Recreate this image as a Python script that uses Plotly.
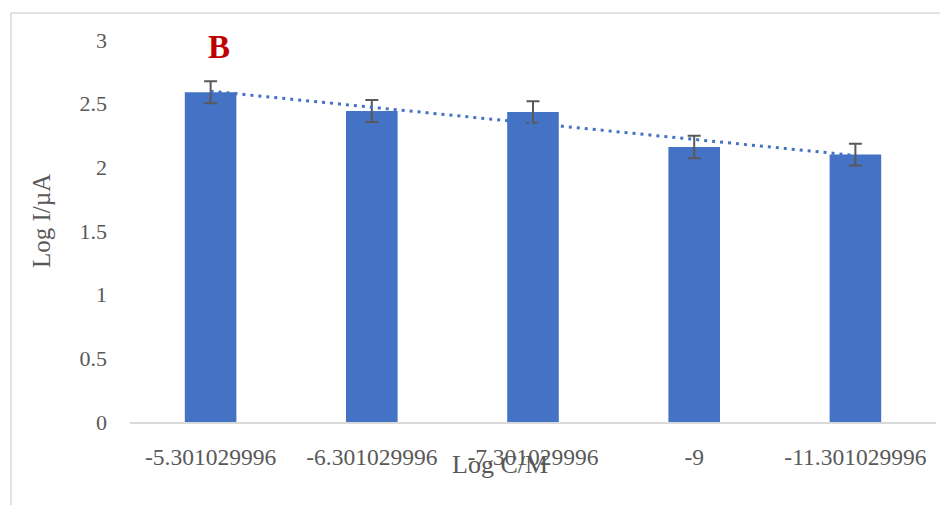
import numpy as np
import plotly.graph_objects as go

categories = ["-5.301029996", "-6.301029996", "-7.301029996", "-9", "-11.301029996"]
log_current = [2.59, 2.443, 2.435, 2.16, 2.10]
error_vals = [0.087, 0.086, 0.084, 0.088, 0.086]
y_ticks = [0, 0.5, 1, 1.5, 2, 2.5, 3]
y_tick_text = ["0", "0.5", "1", "1.5", "2", "2.5", "3"]

# linear trendline (as in the spreadsheet's linear trendline) fitted to the bar values
xi = np.arange(1, len(log_current) + 1)
slope, intercept = np.polyfit(xi, log_current, 1)
trend = (slope * xi + intercept).tolist()

GRAY = "#595959"
SERIF = "Liberation Serif, Times New Roman, serif"

fig = go.Figure()
fig.add_trace(go.Bar(
    x=categories, y=log_current,
    marker=dict(color="#4472C4", line=dict(width=0)),
    error_y=dict(type="data", array=error_vals, visible=True,
                 color=GRAY, thickness=2, width=6.5),
    showlegend=False,
))
fig.add_trace(go.Scatter(
    x=categories, y=trend, mode="lines",
    line=dict(color="#4472C4", width=3, dash="3px,5px"),
    showlegend=False, hoverinfo="skip",
))

fig.update_layout(
    width=940, height=505,
    margin=dict(l=130, r=4, t=40, b=83),
    paper_bgcolor="white", plot_bgcolor="white",
    bargap=0.68,
    font=dict(family=SERIF, color=GRAY, size=22),
    xaxis=dict(type="category", showline=True, linecolor="#D9D9D9", linewidth=1.5,
               showgrid=False, zeroline=False, ticks="",
               tickfont=dict(family=SERIF, size=23.5, color=GRAY),
               ticklabelstandoff=13),
    yaxis=dict(range=[0, 3], tickvals=y_ticks, ticktext=y_tick_text,
               showline=False, showgrid=False, zeroline=False, ticks="",
               tickfont=dict(family=SERIF, size=22, color=GRAY),
               ticklabelstandoff=22),
    shapes=[dict(type="rect", xref="paper", yref="paper",
                 x0=(11 - 130) / 806, x1=(990 - 130) / 806,
                 y0=(422 - 560) / 382, y1=(422 - 13) / 382,
                 line=dict(color="#D9D9D9", width=1.5), fillcolor="rgba(0,0,0,0)",
                 layer="below")],
    annotations=[
        dict(text="Log C/M", xref="paper", yref="paper",
             x=(500 - 130) / 806, y=(422 - 464) / 382,
             xanchor="center", yanchor="middle", showarrow=False,
             font=dict(family=SERIF, size=26, color=GRAY)),
        dict(text="Log I/µA", xref="paper", yref="paper",
             x=(41 - 130) / 806, y=(422 - 221) / 382, textangle=-90,
             xanchor="center", yanchor="middle", showarrow=False,
             font=dict(family=SERIF, size=25, color=GRAY)),
        dict(text="<b>B</b>", xref="paper", yref="paper",
             x=(219 - 130) / 806, y=(422 - 47.5) / 382,
             xanchor="center", yanchor="middle", showarrow=False,
             font=dict(family=SERIF, size=33, color="#C00000")),
    ],
)

fig.write_html("out.html",
               config={"displayModeBar": False},
               post_script="document.body.style.margin='0';document.body.style.overflow='hidden';")
